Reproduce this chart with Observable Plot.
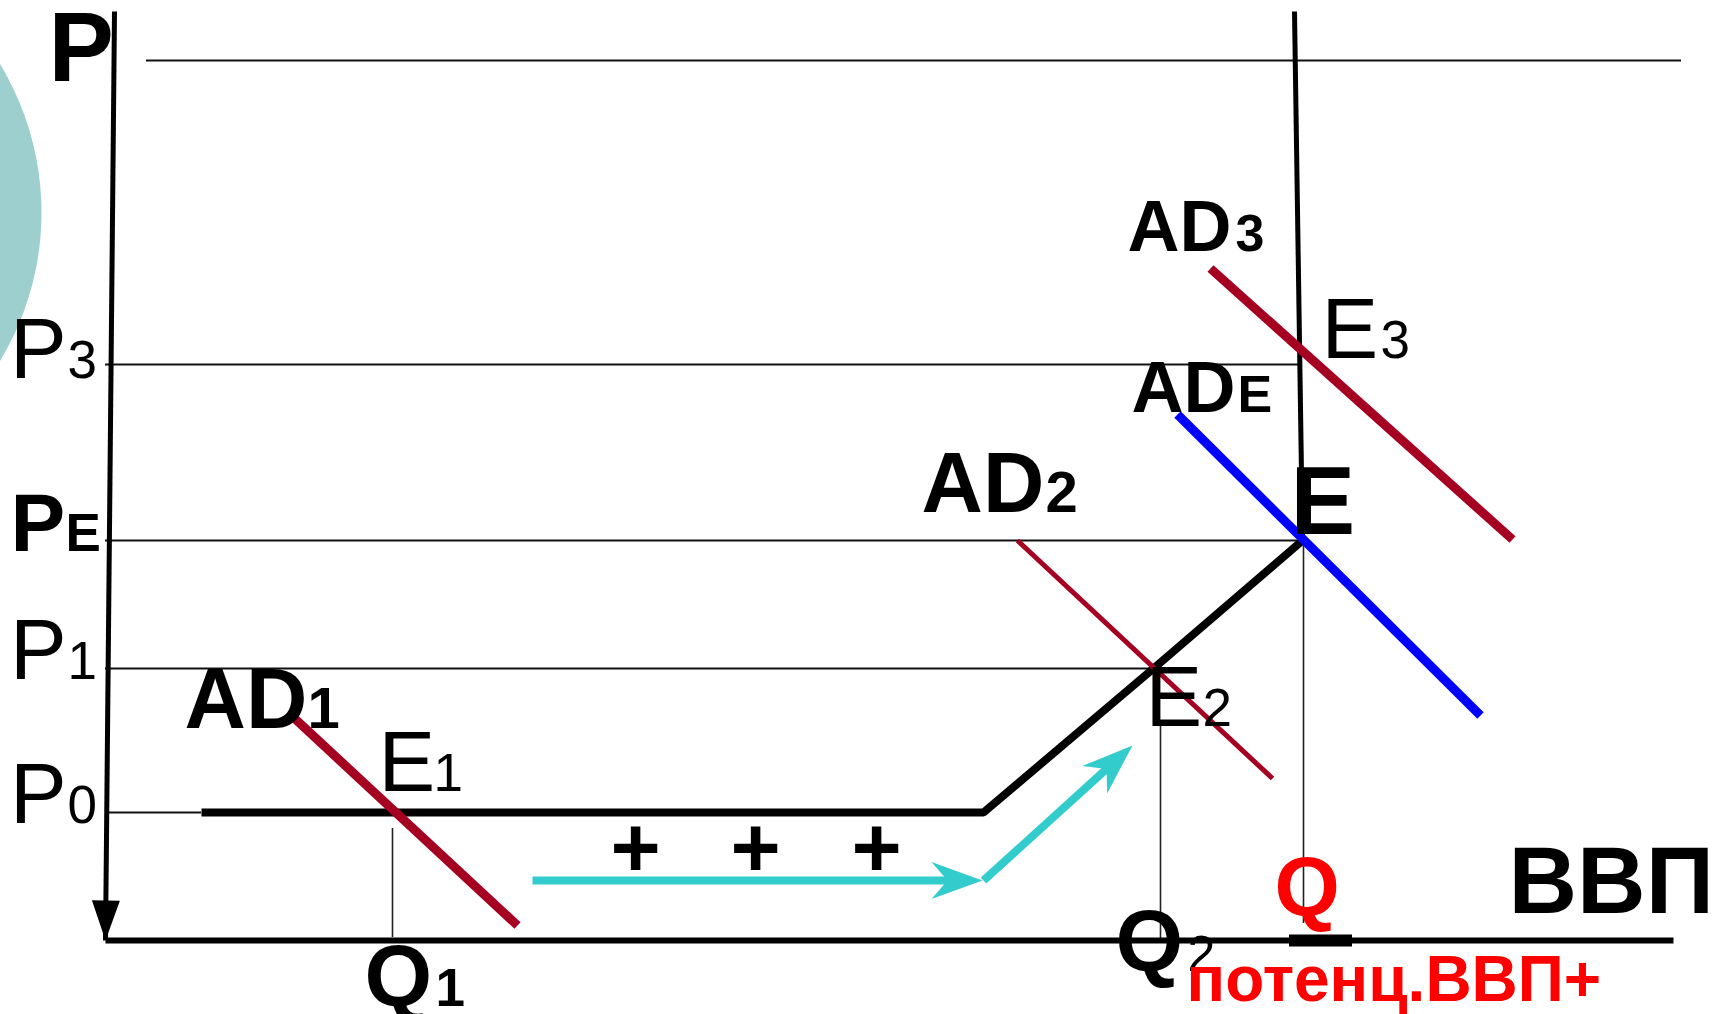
<!DOCTYPE html>
<html><head><meta charset="utf-8">
<script src="https://cdn.jsdelivr.net/npm/d3@7"></script>
<script src="https://cdn.jsdelivr.net/npm/@observablehq/plot@0.6"></script>
<style>html,body{margin:0;padding:0;background:#fff;overflow:hidden}</style>
</head><body><div id="chart"></div>
<script>
// ---------- data (chart units: Q = output / ВВП, P = price level) ----------
const P0 = 12.8, P1 = 27.2, PE = 40, P3 = 57.6, PTOP = 88;
const Q1 = 28.7, Q2 = 105.5, QE = 119.8;

const yAxisLine = [{q: 0.9, p: 92.9}, {q: 0, p: 0}];
const xAxisLine = [{q: 0, p: 0}, {q: 156.8, p: 0}];

const priceGuides = [
  {p: PTOP, q0: 4.1, q1: 157.6},
  {p: P3, q0: 0, q1: 119.3},
  {p: PE, q0: 0, q1: 119.7},
  {p: P1, q0: 0, q1: 104.8},
  {p: P0, q0: 0, q1: 9.6}
];
const outputGuides = [
  {q: Q1, p0: 0.3, p1: 11.2},
  {q: Q2, p0: 0, p1: 21.5},
  {q: QE, p0: 1.7, p1: PE}
];
const potentialMark = [{q0: 118.4, q1: 124.7, p: 0}];

const supplyCurve = [{q: 9.6, p: P0}, {q: 87.8, p: P0}, {q: 104.8, p: P1}, {q: 119.7, p: PE}];
const lrasLine = [{q: 119.7, p: PE}, {q: 118.9, p: 92.9}];

const ad1 = [{q: 18.7, p: 22.4}, {q: 41.2, p: 1.5}];
const ad2 = [{q: 91.2, p: 40.0}, {q: 116.7, p: 16.2}];
const ad3 = [{q: 110.5, p: 67.2}, {q: 140.7, p: 40.1}];
const adE = [{q: 107.2, p: 52.6}, {q: 137.5, p: 22.5}];

const growthArrow1 = [{q: 42.7, p: 6.0}, {q: 87.7, p: 6.0}];
const growthArrow2 = [{q: 87.8, p: 6.0}, {q: 102.7, p: 19.5}];
const plusSigns = [{q: 53.0, p: 9.1}, {q: 65.0, p: 9.1}, {q: 77.1, p: 9.1}];

const circleBg = [{q: -35.0, p: 72.8}];

// labels: main text + subscript
const priceLabels = [
  {main: "P", sub: "3", q: -9.55, qs: -3.8, p: 56.3},
  {main: "P", sub: "1", q: -9.55, qs: -3.8, p: 26.2},
  {main: "P", sub: "0", q: -9.55, qs: -3.8, p: 11.8}
];
const pointLabels = [
  {main: "E", sub: "1", q: 27.3, qs: 32.8, p: 15.0},
  {main: "E", sub: "2", q: 104.0, qs: 109.7, p: 21.5},
  {main: "E", sub: "3", q: 121.6, qs: 127.5, p: 58.3}
];
const demandLabelsA = [
  {main: "AD", sub: "1", q: 7.9, qs: 20.2, p: 21.3},
  {main: "AD", sub: "2", q: 81.6, qs: 94.0, p: 42.9}
];
const demandLabelsB = [
  {main: "AD", sub: "3", q: 102.2, qs: 113.0, p: 69.0},
  {main: "AD", sub: "E", q: 102.6, qs: 113.2, p: 52.9}
];
const equilibriumPriceLabel = [{main: "P", sub: "E", q: -9.5, qs: -4.0, p: 39.0}];
const outputLabel1 = [{main: "Q", sub: "1", q: 25.9, qs: 33.0, p: -6.5}];
const outputLabel2 = [{main: "Q", sub: "2", q: 101.0, qs: 108.2, p: -3.0}];
const axisTitleP = [{text: "P", q: -5.7, p: 86}];
const axisTitleQ = [{text: "ВВП", q: 140.3, p: 2.8}];
const pointE = [{text: "E", q: 118.5, p: 40.7}];
const potentialQ = [{text: "Q", q: 116.9, p: 2.5}];
const potentialNote = [{text: "потенц.ВВП+", q: 108.1, p: -6.0}];

// ---------- drawing ----------
const X_DOMAIN = [0, 160], X_RANGE = [105, 1705];
const Y_DOMAIN = [0, 90], Y_RANGE = [940, 40];
const kx = (X_RANGE[1] - X_RANGE[0]) / (X_DOMAIN[1] - X_DOMAIN[0]);
const ky = (Y_RANGE[0] - Y_RANGE[1]) / (Y_DOMAIN[1] - Y_DOMAIN[0]);

function headShape(from, to, len, half, notch) {
  const a = Math.atan2(-(to.p - from.p) * ky, (to.q - from.q) * kx);
  const ux = Math.cos(a), uy = Math.sin(a), nx = -uy, ny = ux;
  return {draw(c) {
    c.moveTo(0, 0);
    c.lineTo(-ux * len + nx * half, -uy * len + ny * half);
    c.lineTo(-ux * notch, -uy * notch);
    c.lineTo(-ux * len - nx * half, -uy * len - ny * half);
    c.closePath();
  }};
}
function shortenEnd(seg, px) {
  const [a, b] = seg;
  const dx = (b.q - a.q) * kx, dy = (b.p - a.p) * ky;
  const L = Math.hypot(dx, dy), t = (L - px) / L;
  return [a, {q: a.q + (b.q - a.q) * t, p: a.p + (b.p - a.p) * t}];
}

const FONT = "Liberation Sans, Arial, Helvetica, sans-serif";
const RED = "#a50021", CYAN = "#33cccc";

function labelPair(data, mainSize, subSize, weight, subWeight, color) {
  return [
    Plot.text(data, {x: "q", y: "p", text: "main", textAnchor: "start", lineAnchor: "bottom",
      fontSize: mainSize, fontWeight: weight, fontFamily: FONT, fill: color}),
    Plot.text(data, {x: "qs", y: "p", text: "sub", textAnchor: "start", lineAnchor: "bottom",
      fontSize: subSize, fontWeight: subWeight, fontFamily: FONT, fill: color})
  ];
}
function single(data, size, weight, color) {
  return Plot.text(data, {x: "q", y: "p", text: "text", textAnchor: "start", lineAnchor: "bottom",
    fontSize: size, fontWeight: weight, fontFamily: FONT, fill: color});
}

const chart = Plot.plot({
  width: 1716, height: 1014, margin: 0,
  x: {domain: X_DOMAIN, range: X_RANGE, axis: null},
  y: {domain: Y_DOMAIN, range: Y_RANGE, axis: null},
  style: {background: "#fff"},
  marks: [
    Plot.dot(circleBg, {x: "q", y: "p", r: 286, fill: "#9dcfcf", stroke: "none"}),
    // guides
    Plot.ruleY(priceGuides, {y: "p", x1: "q0", x2: "q1", stroke: "#111", strokeWidth: 2}),
    Plot.ruleX(outputGuides, {x: "q", y1: "p0", y2: "p1", stroke: "#222", strokeWidth: 1.6}),
    // axes
    Plot.line(yAxisLine, {x: "q", y: "p", stroke: "#000", strokeWidth: 5, strokeLinecap: "butt"}),
    Plot.dot(yAxisLine.slice(1), {x: "q", y: "p", r: 10, symbol: headShape(yAxisLine[0], yAxisLine[1], 40, 14, 40), fill: "#000", stroke: "none"}),
    Plot.line(xAxisLine, {x: "q", y: "p", stroke: "#000", strokeWidth: 6, strokeLinecap: "butt"}),
    Plot.ruleY(potentialMark, {y: "p", x1: "q0", x2: "q1", stroke: "#000", strokeWidth: 12}),
    // supply
    Plot.line(supplyCurve, {x: "q", y: "p", stroke: "#000", strokeWidth: 8, strokeLinecap: "butt", strokeLinejoin: "miter"}),
    Plot.line(lrasLine, {x: "q", y: "p", stroke: "#000", strokeWidth: 5, strokeLinecap: "butt"}),
    // demand
    Plot.line(ad1, {x: "q", y: "p", stroke: RED, strokeWidth: 9, strokeLinecap: "butt"}),
    Plot.line(ad2, {x: "q", y: "p", stroke: RED, strokeWidth: 5, strokeLinecap: "butt"}),
    Plot.line(ad3, {x: "q", y: "p", stroke: RED, strokeWidth: 9, strokeLinecap: "butt"}),
    Plot.line(adE, {x: "q", y: "p", stroke: "#0000ff", strokeWidth: 9, strokeLinecap: "butt"}),
    // growth arrows
    Plot.line(shortenEnd(growthArrow1, 34), {x: "q", y: "p", stroke: CYAN, strokeWidth: 8, strokeLinecap: "butt"}),
    Plot.dot(growthArrow1.slice(1), {x: "q", y: "p", r: 10, symbol: headShape(growthArrow1[0], growthArrow1[1], 51, 18.5, 35), fill: CYAN, stroke: "none"}),
    Plot.line(shortenEnd(growthArrow2, 34), {x: "q", y: "p", stroke: CYAN, strokeWidth: 8, strokeLinecap: "butt"}),
    Plot.dot(growthArrow2.slice(1), {x: "q", y: "p", r: 10, symbol: headShape(growthArrow2[0], growthArrow2[1], 51, 18.5, 35), fill: CYAN, stroke: "none"}),
    Plot.text(plusSigns, {x: "q", y: "p", text: () => "+", textAnchor: "middle", lineAnchor: "middle",
      fontSize: 86, fontWeight: "bold", fontFamily: FONT, fill: "#000"}),
    // labels
    ...labelPair(priceLabels, 85, 53, "normal", "normal", "#000"),
    ...labelPair(equilibriumPriceLabel, 82, 53, "bold", "bold", "#000"),
    ...labelPair(pointLabels, 85, 53, "normal", "normal", "#000"),
    ...labelPair(demandLabelsA, 85, 58, "bold", "bold", "#000"),
    ...labelPair(demandLabelsB, 72, 52, "bold", "bold", "#000"),
    ...labelPair(outputLabel1, 87, 53, "bold", "bold", "#000"),
    ...labelPair(outputLabel2, 87, 50, "bold", "normal", "#000"),
    single(axisTitleP, 98, "bold", "#000"),
    single(axisTitleQ, 95, "bold", "#000"),
    single(pointE, 97, "bold", "#000"),
    single(potentialQ, 84, "bold", "#ff0000"),
    single(potentialNote, 64, "bold", "#ff0000")
  ]
});
document.getElementById("chart").appendChild(chart);
</script></body></html>
